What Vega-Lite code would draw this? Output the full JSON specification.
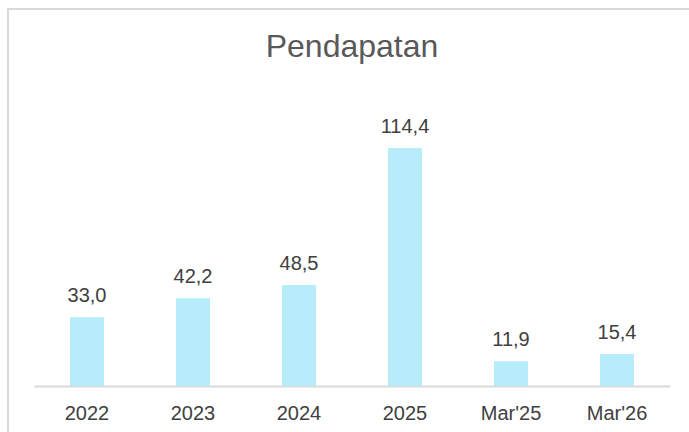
{
  "$schema": "https://vega.github.io/schema/vega-lite/v6.json",
  "autosize": "none",
  "width": 690,
  "height": 430,
  "padding": {"left": 8, "top": 9, "right": 0, "bottom": 0},
  "background": "white",
  "config": {
    "locale": {"number": {"decimal": ",", "thousands": ".", "grouping": [3], "currency": ["Rp", ""]}},
    "view": {"stroke": "#d9d9d9", "strokeWidth": 2},
    "font": "Liberation Sans"
  },
  "title": {
    "text": "Pendapatan",
    "orient": "top",
    "anchor": "middle",
    "baseline": "alphabetic",
    "offset": -48,
    "dy": 32,
    "dx": -1,
    "font": "Liberation Sans",
    "fontSize": 32,
    "fontWeight": "normal",
    "color": "#595959"
  },
  "data": {
    "values": [
      {"period": "2022", "value": 33.0},
      {"period": "2023", "value": 42.2},
      {"period": "2024", "value": 48.5},
      {"period": "2025", "value": 114.4},
      {"period": "Mar'25", "value": 11.9},
      {"period": "Mar'26", "value": 15.4}
    ]
  },
  "encoding": {
    "x": {
      "field": "period",
      "type": "nominal",
      "sort": null,
      "scale": {"range": [26, 662], "paddingInner": 0.68, "paddingOuter": 0.34},
      "axis": {
        "title": null,
        "offset": -53,
        "labelAngle": 0,
        "ticks": false,
        "domainColor": "#d9d9d9",
        "domainWidth": 2,
        "labelFont": "Liberation Sans",
        "labelFontSize": 20,
        "labelColor": "#404040",
        "labelPadding": 17,
        "grid": false
      }
    },
    "y": {
      "field": "value",
      "type": "quantitative",
      "scale": {"domain": [0, 140], "range": [377, 85.8], "nice": false, "zero": true},
      "axis": null
    }
  },
  "layer": [
    {"mark": {"type": "bar", "color": "#b7ecfb"}},
    {
      "mark": {"type": "text", "baseline": "alphabetic", "dy": -15, "font": "Liberation Sans", "fontSize": 20, "color": "#404040"},
      "encoding": {"text": {"field": "value", "type": "quantitative", "format": ".1f"}}
    }
  ]
}
